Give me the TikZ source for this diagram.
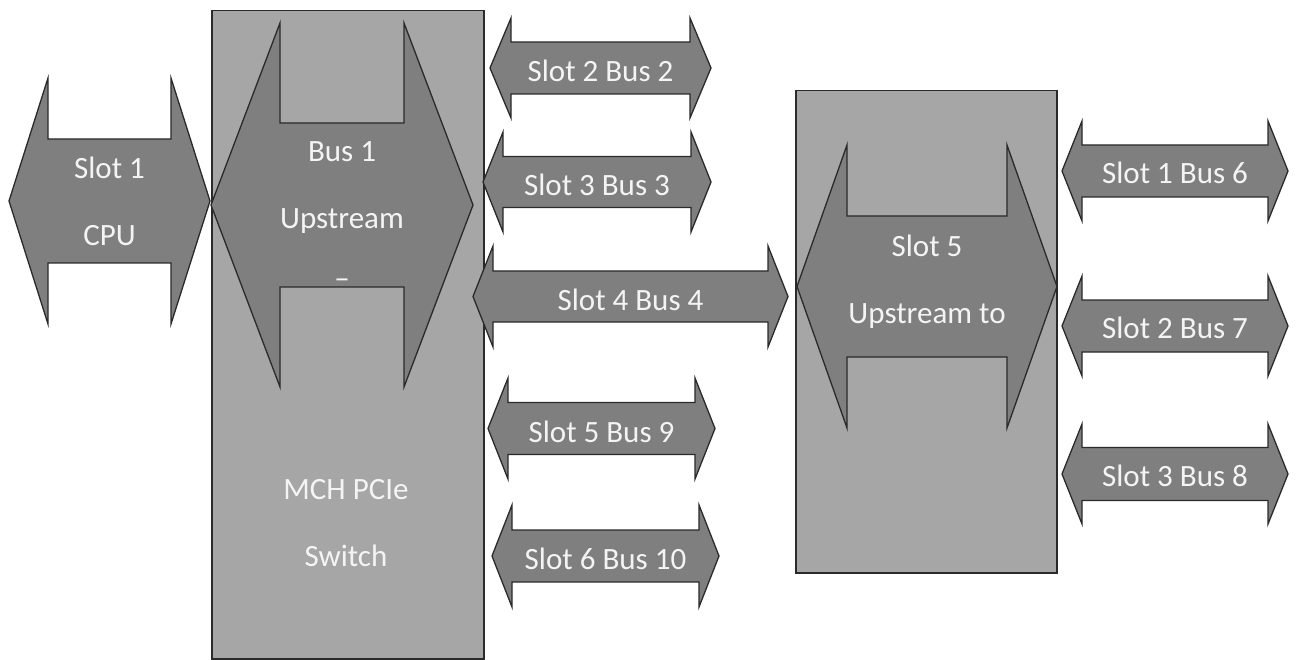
\documentclass[tikz,border=0pt]{standalone}
\usepackage{fontspec}
\setmainfont{Carlito}
\definecolor{boxgray}{HTML}{A6A6A6}
\definecolor{arrgray}{HTML}{7F7F7F}
\definecolor{edgec}{HTML}{2A2A2A}
\definecolor{txtc}{HTML}{F4F4F4}
\tikzset{
  panel/.style={draw=edgec, fill=boxgray, line width=1.5pt, inner sep=0pt, anchor=north west},
  arrowshape/.style={draw=edgec, fill=arrgray, line width=1.3pt},
  lbl/.style={text=txtc, align=center, inner sep=0pt, font=\fontsize{31pt}{67pt}\selectfont},
}
% name, xl, xr, yc, head length, head half height, body half height, text, text y-offset
\newcommand{\dblarr}[9]{%
  \draw[arrowshape] ({#2},{#4}) -- ({#2+#5},{#4-#6}) -- ({#2+#5},{#4-#7}) -- ({#3-#5},{#4-#7})
    -- ({#3-#5},{#4-#6}) -- ({#3},{#4}) -- ({#3-#5},{#4+#6}) -- ({#3-#5},{#4+#7})
    -- ({#2+#5},{#4+#7}) -- ({#2+#5},{#4+#6}) -- cycle;
  \node[lbl] (#1) at ({(#2+#3)/2},{#4+#9}) {#8};
}
\begin{document}
\begin{tikzpicture}[x=1pt,y=-1pt]
\useasboundingbox (0,0) rectangle (1298,660);
% panels
\node[panel, minimum width=272pt, minimum height=648pt] (mch) at (211,10) {};
\node[panel, minimum width=261pt, minimum height=482pt] (sw2) at (795,90) {};
% left side
\dblarr{cpu}{9}{210}{201}{39}{123}{62}{Slot 1\\CPU}{0}
\dblarr{bus1}{211}{473}{205}{69}{182}{82}{Bus 1\\Upstream\\[-7pt]–}{10.5}
\node[lbl] (mchlbl) at (346,523) {MCH PCIe\\Switch};
% middle column
\dblarr{s2b2}{490}{711}{68}{21}{50}{26}{Slot 2 Bus 2}{3}
\dblarr{s3b3}{483}{711}{182}{20}{50}{25.5}{Slot 3 Bus 3}{3}
\dblarr{s4b4}{473}{788}{296.5}{20}{50.5}{25.5}{Slot 4 Bus 4}{3}
\dblarr{s5b9}{488}{715}{428.5}{20}{50.5}{26}{Slot 5 Bus 9}{3}
\dblarr{s6b10}{492}{719}{556}{20}{51}{26}{Slot 6 Bus 10}{3}
% right switch
\dblarr{s5up}{797}{1057}{286.5}{50}{141.5}{70.5}{Slot 5\\Upstream to}{-5}
% right column
\dblarr{s1b6}{1062}{1288}{171}{20}{50}{26}{Slot 1 Bus 6}{2}
\dblarr{s2b7}{1062}{1288}{326}{20}{50}{26}{Slot 2 Bus 7}{2}
\dblarr{s3b8}{1062}{1288}{474}{20}{50}{26.5}{Slot 3 Bus 8}{2}
\end{tikzpicture}
\end{document}
